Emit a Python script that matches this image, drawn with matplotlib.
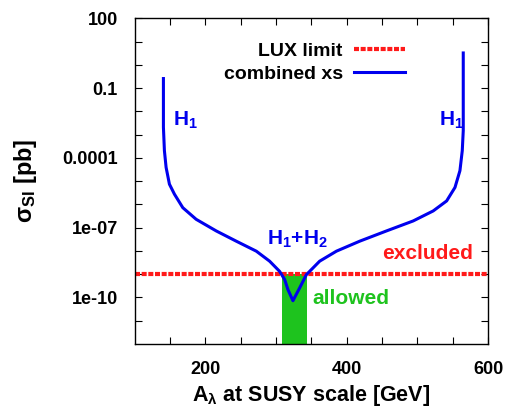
import matplotlib
matplotlib.use("Agg")
import matplotlib.pyplot as plt
import numpy as np

# ── data ──────────────────────────────────────────────────────────────────────
a_lambda = [140.9, 140.9, 142.3, 144.7, 149.4, 156.5, 168.3, 187.2, 215.6,
            243.9, 272.3, 291.1, 305.3, 312.4, 317.0, 324.1, 333.6, 343.1,
            361.9, 385.6, 418.6, 456.4, 494.2, 522.5, 541.5, 553.3, 560.3,
            563.6, 565.0, 565.0]
log_sigma = [-0.59, -2.68, -3.69, -4.41, -5.13, -5.56, -6.14, -6.64, -7.14,
             -7.58, -8.01, -8.44, -8.88, -9.23, -9.66, -10.14, -9.59, -9.02,
             -8.44, -8.01, -7.58, -7.14, -6.71, -6.28, -5.85, -5.27, -4.55,
             -3.69, -2.83, 0.51]
sigma = [10 ** v for v in log_sigma]

lux_limit = 1e-9
allowed_lo, allowed_hi = 308, 344

xticks = [200, 400, 600]
yticks = [1e-10, 1e-7, 1e-4, 0.1, 100]
ytick_labels = ["1e-10", "1e-07", "0.0001", "0.1", "100"]

BLUE = "#0000ee"
RED = "#ff1a1a"
GREEN = "#1ec31e"
FONT = "Liberation Sans"

plt.rcParams["font.family"] = [FONT, "DejaVu Sans"]
plt.rcParams["font.weight"] = "bold"
plt.rcParams["mathtext.fontset"] = "custom"
plt.rcParams["mathtext.rm"] = f"{FONT}:bold"
plt.rcParams["mathtext.it"] = f"{FONT}:bold"
plt.rcParams["mathtext.bf"] = f"{FONT}:bold"
plt.rcParams["mathtext.default"] = "rm"

W, H = 508, 411
fig = plt.figure(figsize=(W / 100, H / 100), dpi=100)
ax = fig.add_axes([134.5 / W, 1 - 344 / H, (488 - 134.5) / W, (344 - 18.3) / H])

ax.fill_between([allowed_lo, allowed_hi], 1e-12, lux_limit, color=GREEN, lw=0, zorder=1)
ax.plot([100, 600], [lux_limit, lux_limit], color=RED, lw=3, dashes=(1.2, 0.4),
        label="LUX limit", zorder=2)
ax.plot(a_lambda, sigma, color=BLUE, lw=2.2, label="combined xs", zorder=3,
        solid_joinstyle="round")

ax.set_yscale("log")
ax.set_xlim(100, 600)
ax.set_ylim(1e-12, 100)
ax.set_xticks(xticks)
ax.set_xticks(np.arange(150, 600, 50), minor=True)
ax.set_yticks(yticks)
ax.set_yticklabels(ytick_labels)
ax.set_yticks([10.0 ** k for k in range(-11, 2)], minor=True)
ax.yaxis.set_minor_formatter(matplotlib.ticker.NullFormatter())
ax.tick_params(which="both", direction="in", top=True, right=True,
               labelsize=13, width=0.8, length=5)
ax.tick_params(axis="y", pad=12)
ax.tick_params(axis="x", pad=12)
for s in ax.spines.values():
    s.set_linewidth(1.0)

ax.set_xlabel(r"A$_\lambda$ at SUSY scale [GeV]", fontsize=15.5, fontweight="bold",
              labelpad=4)
ax.set_ylabel(r"$\sigma_{SI}$ [pb]", fontsize=17, fontweight="bold", labelpad=17)

ax.text(154, 0.004, r"H$_1$", color=BLUE, fontsize=15, ha="left", va="center")
ax.text(531, 0.004, r"H$_1$", color=BLUE, fontsize=15, ha="left", va="center")
ax.text(330, 3.2e-8, r"H$_1$+H$_2$", color=BLUE, fontsize=15, ha="center", va="center")
ax.text(579, 8e-9, "excluded", color=RED, fontsize=15, ha="right", va="center")
ax.text(351, 9e-11, "allowed", color=GREEN, fontsize=15, ha="left", va="center")

leg = ax.legend(loc="upper right", bbox_to_anchor=(405 / W, 1 - 42 / H),
                bbox_transform=fig.transFigure, frameon=False,
                markerfirst=False, fontsize=14, handlelength=2.6,
                handletextpad=0.6, labelspacing=0.3, borderaxespad=0,
                borderpad=0)
for t in leg.get_texts():
    t.set_ha("right")

fig.savefig("out.png", dpi=100)
